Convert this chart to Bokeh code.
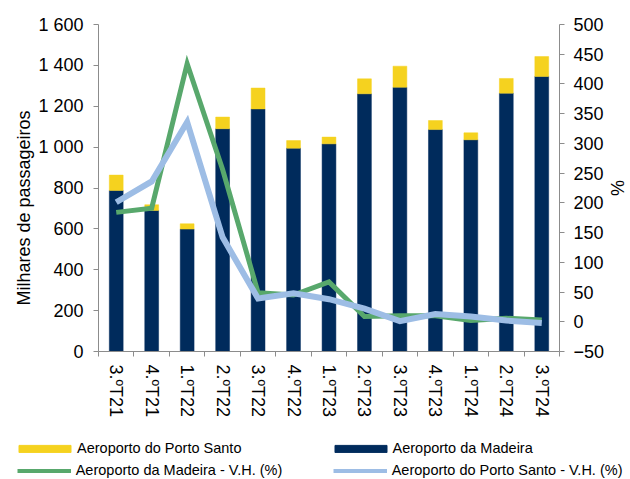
from bokeh.plotting import figure
from bokeh.models import (Range1d, LinearAxis, FixedTicker, ColumnDataSource,
                          Legend, LegendItem, Title)
from bokeh.embed import file_html
from bokeh.resources import INLINE

# ---------------- data ----------------
categories = ["3.ºT21", "4.ºT21", "1.ºT22", "2.ºT22", "3.ºT22", "4.ºT22", "1.ºT23",
              "2.ºT23", "3.ºT23", "4.ºT23", "1.ºT24", "2.ºT24", "3.ºT24"]
madeira = [788, 690, 599, 1090, 1187, 995, 1016, 1261, 1293, 1086, 1036, 1264, 1346]
porto_santo = [75, 28, 26, 57, 102, 37, 33, 73, 103, 44, 34, 72, 97]
madeira_vh = [184, 191, 434, 256, 49, 45, 67, 9, 10, 10, 2, 6, 3]
porto_santo_vh = [201, 236, 336, 142, 39, 48, 38, 22, 1, 13, 9, 2, -2]

left_ticks = [0, 200, 400, 600, 800, 1000, 1200, 1400, 1600]
left_tick_labels = ["0", "200", "400", "600", "800", "1 000", "1 200", "1 400", "1 600"]
right_ticks = [-50, 0, 50, 100, 150, 200, 250, 300, 350, 400, 450, 500]

# ---------------- styles ----------------
NAVY = "#002B5C"
YELLOW = "#F5D21F"
GREEN = "#58A86C"
LBLUE = "#9DBDE5"
AXIS = "#8C8C8C"
FONT = "Liberation Sans"

n = len(categories)
xc = [i + 0.5 for i in range(n)]
src = ColumnDataSource(dict(x=xc, madeira=madeira, ps=porto_santo,
                            mvh=madeira_vh, psvh=porto_santo_vh))

p = figure(width=630, height=440, output_backend="svg", toolbar_location=None,
           x_range=Range1d(0, n), y_range=Range1d(0, 1600),
           min_border_left=98, min_border_right=66, min_border_top=24,
           min_border_bottom=89, outline_line_color=None)
p.extra_y_ranges = {"pct": Range1d(-50, 500)}
p.xgrid.visible = False
p.ygrid.visible = False

r_mad, r_ps = p.vbar_stack(["madeira", "ps"], x="x", width=0.39, source=src,
                           fill_color=[NAVY, YELLOW], line_color=[NAVY, YELLOW],
                           line_width=0.5)

r_mvh = p.line("x", "mvh", source=src, y_range_name="pct", line_color=GREEN,
               line_width=5, line_join="miter")
r_psvh = p.line("x", "psvh", source=src, y_range_name="pct", line_color=LBLUE,
                line_width=6, line_join="miter")

# x axis: labels at centers, tick marks at category boundaries (minor ticks)
xa = p.xaxis[0]
xa.ticker = FixedTicker(ticks=xc, minor_ticks=list(range(n + 1)))
xa.major_label_overrides = {x: c for x, c in zip(xc, categories)}
xa.major_label_orientation = "vertical"
xa.major_tick_out = 0
xa.major_tick_in = 0
xa.minor_tick_out = 5
xa.minor_tick_in = 0
xa.minor_tick_line_color = AXIS
xa.axis_line_color = AXIS
xa.major_label_standoff = 8

# left axis
ya = p.yaxis[0]
ya.ticker = FixedTicker(ticks=left_ticks)
ya.major_label_overrides = {t: l for t, l in zip(left_ticks, left_tick_labels)}
ya.major_tick_out = 5
ya.major_tick_in = 0
ya.minor_tick_out = 0
ya.major_tick_line_color = AXIS
ya.axis_line_color = AXIS
ya.major_label_standoff = 10

# right axis
ra = LinearAxis(y_range_name="pct", ticker=FixedTicker(ticks=right_ticks))
ra.major_tick_out = 5
ra.major_tick_in = 0
ra.minor_tick_out = 0
ra.major_tick_line_color = AXIS
ra.axis_line_color = AXIS
ra.major_label_standoff = 9
ra.axis_label = "%"
ra.axis_label_standoff = 0
ra.axis_label_text_font = FONT
ra.axis_label_text_font_size = "18px"
ra.axis_label_text_font_style = "normal"
ra.axis_label_text_color = "#000000"
p.add_layout(ra, "right")

for ax in (xa, ya, ra):
    ax.major_label_text_font = FONT
    ax.major_label_text_font_size = "18px"
    ax.major_label_text_color = "#000000"

# left axis title (anchored at frame bottom, shifted up)
p.add_layout(Title(text="Milhares de passageiros", align="left", offset=46,
                   standoff=3, text_font=FONT, text_font_size="18px",
                   text_font_style="normal", text_color="#000000"), "left")

# ---------------- legend strip (separate root, full width frame) ----------------
pl = figure(width=630, height=39, output_backend="svg", toolbar_location=None,
            x_range=Range1d(0, 1), y_range=Range1d(0, 1), x_axis_type=None,
            y_axis_type=None, min_border=0, min_border_left=0, min_border_right=0,
            min_border_top=0, min_border_bottom=0, outline_line_color=None)
pl.xgrid.visible = False
pl.ygrid.visible = False

# legend proxies: same styles as the chart marks, placed outside the visible range
lg_ps = pl.vbar(x=[5], top=[1], width=0.1, fill_color=YELLOW, line_color=YELLOW)
lg_mad = pl.vbar(x=[5], top=[1], width=0.1, fill_color=NAVY, line_color=NAVY)
lg_mvh = pl.line(x=[5, 6], y=[5, 5], line_color=GREEN, line_width=4)
lg_psvh = pl.line(x=[5, 6], y=[5, 5], line_color=LBLUE, line_width=4)


def add_leg(r, label, x, y, gw, gh, standoff):
    leg = Legend(items=[LegendItem(label=label, renderers=[r])], location=(x, y),
                 orientation="horizontal", glyph_width=gw, glyph_height=gh,
                 label_height=16, label_standoff=standoff, padding=0, margin=0,
                 spacing=0, border_line_color=None, background_fill_alpha=0,
                 label_text_font=FONT, label_text_font_size="14.5px",
                 label_text_color="#000000")
    pl.add_layout(leg)


add_leg(lg_ps, "Aeroporto do Porto Santo", 12, 23, 65, 9, 0)
add_leg(lg_mad, "Aeroporto da Madeira", 327.5, 23, 65, 9, 0)
add_leg(lg_mvh, "Aeroporto da Madeira - V.H. (%)", 16.7, 1, 54, 9, 5)
add_leg(lg_psvh, "Aeroporto do Porto Santo - V.H. (%)", 332.7, 1, 54, 9, 5)

open("out.html", "w").write(file_html([p, pl], INLINE))
